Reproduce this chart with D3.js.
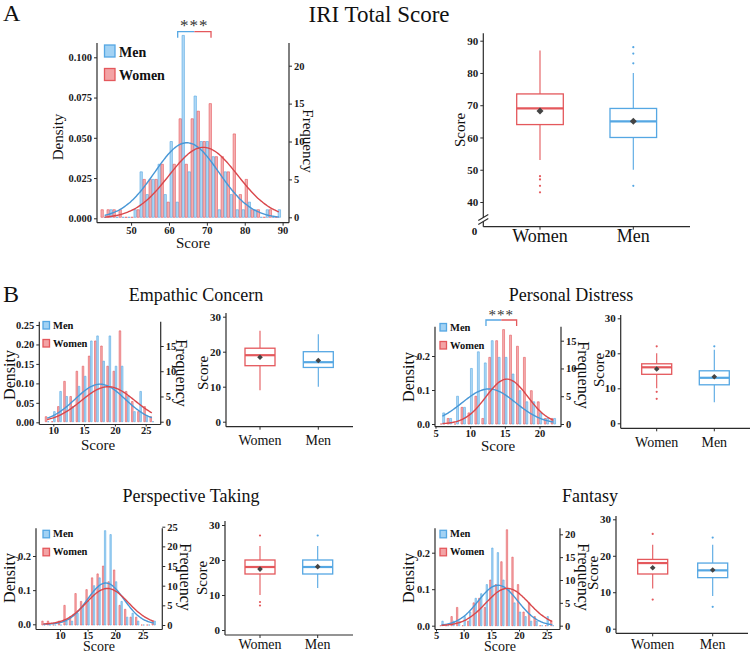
<!DOCTYPE html>
<html><head><meta charset="utf-8">
<script src="https://cdn.jsdelivr.net/npm/d3@7"></script>
<style>body{margin:0;background:#fff}svg{display:block}</style>
</head><body><svg id="c" width="750" height="652"></svg>
<script>
// ---------------- DATA ----------------
const groupLabels = ["Women", "Men"];
const legendLabels = ["Men", "Women"];
const panelTitles = ["IRI Total Score", "Empathic Concern", "Personal Distress", "Perspective Taking", "Fantasy"];
const panelLetters = ["A", "B"];
const sigLabel = "***";

// IRI total score: histogram bins (bin centers) and counts
const iriBins = [42.75, 44.34, 45.92, 47.51, 49.10, 50.68, 52.27, 53.85, 55.44, 57.03, 58.61, 60.20, 61.78, 63.37, 64.96,
                 66.54, 68.13, 69.71, 71.30, 72.89, 74.47, 76.06, 77.64, 79.23, 80.82, 82.40, 83.99, 85.58, 87.16, 88.75];
const iriWomen = [1, 1, 1, 1, 0, 0, 1, 5, 5, 5, 7, 2, 7, 13, 7, 13, 14, 10, 15, 8, 8, 6, 11, 3, 5, 1, 1, 0, 1, 0];
const iriMen   = [0, 1, 0, 0, 0, 1, 6, 3, 5, 7, 3, 10, 2, 24, 6, 16, 10, 10, 8, 1, 6, 3, 1, 1, 2, 1, 0, 1, 0, 1];
const iriNormWomen = [69.1, 9.05];   // mean, sd
const iriNormMen = [64.7, 8.5];
const iriBoxWomen = {lo: 53, q1: 64, med: 69, q3: 73.5, hi: 87, mean: 68.2, out: [48, 47, 45, 43]};
const iriBoxMen   = {lo: 50, q1: 60, med: 65, q3: 69, hi: 80, mean: 65, out: [83, 86, 88, 45]};

// Empathic Concern
const ecScores = [9, 10, 11, 12, 13, 14, 15, 16, 17, 18, 19, 20, 21, 22, 23, 24, 25, 26];
const ecWomen = [1, 0, 3, 8, 5, 10, 11, 13, 16, 15, 11, 10, 18, 6, 4, 2, 3, 1];
const ecMen   = [0, 2, 6, 5, 3, 7, 9, 16, 17, 12, 17, 11, 11, 5, 2, 6, 1, 0];
const ecNormWomen = [18.9, 4.36];
const ecNormMen = [17.6, 4.07];
const ecBoxWomen = {lo: 9, q1: 16, med: 19, q3: 21, hi: 26, mean: 18.4, out: []};
const ecBoxMen   = {lo: 10, q1: 15.5, med: 17, q3: 20, hi: 25, mean: 17.5, out: []};

// Personal Distress
const pdScores = [6, 7, 8, 9, 10, 11, 12, 13, 14, 15, 16, 17, 18, 19, 20, 21, 22];
const pdWomen = [0, 1, 0, 3, 2, 5, 1, 12, 15, 17, 16, 14, 12, 6, 4, 1, 1];
const pdMen   = [2, 1, 5, 3, 10, 13, 11, 15, 12, 12, 9, 6, 4, 4, 2, 1, 1];
const pdNormWomen = [15.3, 3.02];
const pdNormMen = [12.7, 3.87];
const pdBoxWomen = {lo: 10, q1: 14, med: 16, q3: 17, hi: 20, mean: 15.5, out: [22, 9, 7]};
const pdBoxMen   = {lo: 6, q1: 11, med: 13, q3: 15, hi: 21, mean: 13.3, out: [22]};

// Perspective Taking
const ptScores = [7, 8, 9, 10, 11, 12, 13, 14, 15, 16, 17, 18, 19, 20, 21, 22, 23, 24, 25, 26, 27];
const ptWomen = [1, 1, 0, 1, 5, 2, 8, 6, 9, 12, 13, 15, 11, 14, 5, 4, 2, 2, 0, 0, 1];
const ptMen   = [0, 0, 0, 0, 1, 1, 3, 5, 6, 10, 12, 24, 23, 11, 6, 2, 3, 1, 0, 0, 1];
const ptNormWomen = [18.6, 3.8];
const ptNormMen = [18.3, 3.3];
const ptBoxWomen = {lo: 10, q1: 16, med: 18, q3: 20, hi: 24, mean: 17.4, out: [27, 8, 7]};
const ptBoxMen   = {lo: 12, q1: 16, med: 18, q3: 20, hi: 24, mean: 18.1, out: [27]};

// Fantasy
const fsScores = [6, 7, 8, 9, 10, 11, 12, 13, 14, 15, 16, 17, 18, 19, 20, 21, 22, 23, 24, 25, 26];
const fsWomen = [0, 0, 2, 4, 0, 1, 5, 6, 4, 10, 9, 14, 21, 15, 9, 3, 5, 2, 0, 0, 1];
const fsMen   = [1, 0, 1, 1, 2, 3, 6, 7, 9, 17, 16, 10, 8, 5, 3, 2, 1, 1, 0, 2, 0];
const fsNormWomen = [17.9, 3.9];
const fsNormMen = [16.2, 3.6];
const fsBoxWomen = {lo: 11, q1: 15, med: 18, q3: 19, hi: 23, mean: 16.7, out: [26, 8]};
const fsBoxMen   = {lo: 9, q1: 14, med: 16, q3: 18, hi: 23, mean: 16.1, out: [25, 6]};

// ---------------- STYLE ----------------
const SERIF = "'Liberation Serif','Times New Roman',serif";
const RED = "#E4585C", RED_FILL = "#F3A3A5";
const BLUE = "#55A7E3", BLUE_FILL = "#A2D2F4";
const RED_LINE = "#D9474B", BLUE_LINE = "#4897D6";
const AXIS = "#2b2b2b";

const svg = d3.select("#c");
svg.append("rect").attr("width", 750).attr("height", 652).attr("fill", "#fff");

function txt(x, y, s, o = {}) {
  const t = svg.append("text").attr("x", x).attr("y", y).text(s)
    .attr("font-family", SERIF).attr("font-size", o.size || 12)
    .attr("text-anchor", o.anchor || "middle").attr("font-weight", o.weight || "normal")
    .attr("fill", o.fill || "#111");
  if (o.rotate != null) t.attr("transform", `rotate(${o.rotate},${x},${y})`);
  if (o.ls) t.attr("letter-spacing", o.ls);
  return t;
}
function styleAxis(g, size, weight) {
  g.attr("font-family", SERIF).attr("font-size", size);
  g.select(".domain").remove();
  g.selectAll(".tick line").attr("stroke", AXIS).attr("stroke-width", 1);
  g.selectAll(".tick text").attr("fill", "#1a1a1a").attr("font-weight", weight || "bold");
}
function normPdf(v, m, s) { return Math.exp(-0.5 * ((v - m) / s) ** 2) / (s * Math.sqrt(2 * Math.PI)); }

function drawHist(L, D) {
  const x = d3.scaleLinear().domain(L.xd).range(L.xr);
  const yD = d3.scaleLinear().domain(L.dd).range(L.dr);
  const yF = d3.scaleLinear().domain(L.fd).range(L.fr);
  const g = svg.append("g");
  const bar = (x0, x1, y0, y1) => `M${x0},${y0}V${y1}H${x1}V${y0}Z`;
  D.bins.forEach((c, i) => {
    g.append("path").attr("d", bar(x(c - D.hw) + 0.3, x(c) - 0.3, yF(0), yF(D.women[i])))
      .attr("fill", RED_FILL).attr("fill-opacity", 0.85).attr("stroke", RED).attr("stroke-width", 0.8).attr("stroke-opacity", 0.75);
    g.append("path").attr("d", bar(x(c) + 0.3, x(c + D.hw) - 0.3, yF(0), yF(D.men[i])))
      .attr("fill", BLUE_FILL).attr("fill-opacity", 0.85).attr("stroke", BLUE).attr("stroke-width", 0.8).attr("stroke-opacity", 0.75);
  });
  const line = d3.line().x(d => x(d)).curve(d3.curveBasis);
  const xs = d3.range(L.cr[0], L.cr[1] + 0.001, (L.cr[1] - L.cr[0]) / 120);
  [[D.normMen, BLUE_LINE], [D.normWomen, RED_LINE]].forEach(([p, col]) => {
    g.append("path").attr("d", line.y(v => yD(normPdf(v, p[0], p[1])))(xs))
      .attr("fill", "none").attr("stroke", col).attr("stroke-width", 1.4);
  });
  // axes
  const ax = (sel) => sel.attr("stroke", AXIS).attr("stroke-width", 1.2);
  ax(g.append("line").attr("x1", L.left).attr("x2", L.left).attr("y1", L.top).attr("y2", L.bottom));
  ax(g.append("line").attr("x1", L.right).attr("x2", L.right).attr("y1", L.top).attr("y2", L.bottom));
  ax(g.append("line").attr("x1", L.left).attr("x2", L.right).attr("y1", L.bottom).attr("y2", L.bottom));
  styleAxis(g.append("g").attr("transform", `translate(${L.left},0)`)
    .call(d3.axisLeft(yD).tickValues(L.dticks).tickFormat(d3.format(L.dfmt)).tickSize(3).tickPadding(2)), L.tfs);
  styleAxis(g.append("g").attr("transform", `translate(${L.right},0)`)
    .call(d3.axisRight(yF).tickValues(L.fticks).tickSize(3).tickPadding(2)), L.tfs);
  styleAxis(g.append("g").attr("transform", `translate(0,${L.bottom})`)
    .call(d3.axisBottom(x).tickValues(L.xticks).tickSize(L.xts || 3).tickPadding(L.xtp == null ? 1 : L.xtp)), L.tfs);
  txt(L.denLab[0], L.denLab[1], "Density", {size: L.lfs, rotate: -90});
  txt(L.freqLab[0], L.freqLab[1], "Frequency", {size: L.lfs, rotate: 90});
  txt(L.scoreLab[0], L.scoreLab[1], "Score", {size: L.sfs || L.lfs});
  // legend
  const lg = L.legend;
  [[legendLabels[0], BLUE_FILL, BLUE, lg.y[0]], [legendLabels[1], RED_FILL, RED, lg.y[1]]].forEach(([lab, f, s, yy]) => {
    g.append("rect").attr("x", lg.x).attr("y", yy).attr("width", lg.w).attr("height", lg.h)
      .attr("fill", f).attr("stroke", s).attr("stroke-width", 1.3);
    txt(lg.x + lg.w + lg.gap, yy + lg.h - 0.5, lab, {size: lg.fs, weight: "bold", anchor: "start"});
  });
  // significance bracket
  if (L.sig) {
    const s = L.sig, xl = x(s.from), xr = x(s.to), xm = (xl + xr) / 2;
    g.append("path").attr("d", `M${xl},${s.y + s.tick}V${s.y}H${xm}`).attr("fill", "none").attr("stroke", BLUE).attr("stroke-width", 1.3);
    g.append("path").attr("d", `M${xm},${s.y}H${xr}V${s.y + s.tick}`).attr("fill", "none").attr("stroke", RED).attr("stroke-width", 1.3);
    txt(xm, s.ty, sigLabel, {size: s.fs, fill: "#333", ls: 1});
  }
}

function drawBox(L, stats) {
  const y = d3.scaleLinear().domain(L.yd).range(L.yr);
  const x = d3.scaleOrdinal().domain(groupLabels).range(L.centers);
  const g = svg.append("g");
  const cols = {Women: RED, Men: BLUE};
  groupLabels.forEach((grp, i) => {
    const s = stats[i], cx = x(grp), c = cols[grp], hw = L.hw;
    g.append("line").attr("x1", cx).attr("x2", cx).attr("y1", y(s.hi)).attr("y2", y(s.q3)).attr("stroke", c).attr("stroke-width", 1.1);
    g.append("line").attr("x1", cx).attr("x2", cx).attr("y1", y(s.q1)).attr("y2", y(s.lo)).attr("stroke", c).attr("stroke-width", 1.1);
    g.append("rect").attr("x", cx - hw).attr("y", y(s.q3)).attr("width", 2 * hw).attr("height", y(s.q1) - y(s.q3))
      .attr("fill", "#fff").attr("stroke", c).attr("stroke-width", 1.3);
    g.append("line").attr("x1", cx - hw).attr("x2", cx + hw).attr("y1", y(s.med)).attr("y2", y(s.med)).attr("stroke", c).attr("stroke-width", 2.2);
    s.out.forEach(o => g.append("circle").attr("cx", cx).attr("cy", y(o)).attr("r", 1.1).attr("fill", c));
    const m = y(s.mean), d = L.dm;
    g.append("path").attr("d", `M${cx},${m - d}L${cx + d},${m}L${cx},${m + d}L${cx - d},${m}Z`).attr("fill", "#444");
  });
  const ax = (sel) => sel.attr("stroke", AXIS).attr("stroke-width", 1.2);
  ax(g.append("line").attr("x1", L.axisX).attr("x2", L.axisX).attr("y1", L.top).attr("y2", L.xAxisY));
  ax(g.append("line").attr("x1", L.axisX).attr("x2", L.right).attr("y1", L.xAxisY).attr("y2", L.xAxisY));
  styleAxis(g.append("g").attr("transform", `translate(${L.axisX},0)`)
    .call(d3.axisLeft(y).tickValues(L.ticks).tickSize(3).tickPadding(2)), L.tfs);
  groupLabels.forEach(grp => {
    g.append("line").attr("x1", x(grp)).attr("x2", x(grp)).attr("y1", L.xAxisY).attr("y2", L.xAxisY + 3).attr("stroke", AXIS);
    txt(x(grp), L.catY, grp, {size: L.cfs});
  });
  txt(L.scoreLab[0], L.scoreLab[1], "Score", {size: L.lfs, rotate: -90});
  if (L.brk) {
    const b = L.brk;
    g.append("rect").attr("x", L.axisX - 2).attr("y", b.y - 2).attr("width", 4).attr("height", 4).attr("fill", "#fff");
    [-2, 2].forEach(o => g.append("line").attr("x1", L.axisX - 5).attr("y1", b.y + o + 3).attr("x2", L.axisX + 5).attr("y2", b.y + o - 3)
      .attr("stroke", AXIS).attr("stroke-width", 1.1));
    txt(L.axisX - 6, b.zy, "0", {size: L.tfs, weight: "bold", anchor: "end"});
  }
}

// ---------------- LAYOUT ----------------
txt(3, 21, panelLetters[0], {size: 24, anchor: "start"});
txt(3, 302, panelLetters[1], {size: 24, anchor: "start"});
txt(379, 22, panelTitles[0], {size: 23});
txt(196, 301, panelTitles[1], {size: 18});
txt(571, 301, panelTitles[2], {size: 18});
txt(191, 502, panelTitles[3], {size: 18});
txt(590, 502, panelTitles[4], {size: 18});

drawHist({xd: [50, 90], xr: [131.1, 282.6], left: 97, right: 289, top: 43, bottom: 222.7,
  dd: [0, 0.1], dr: [218.3, 57.3], fd: [0, 20], fr: [217.3, 65.7], cr: [43, 89],
  dticks: [0, 0.025, 0.05, 0.075, 0.1], dfmt: ".3f", fticks: [0, 5, 10, 15, 20], xticks: [50, 60, 70, 80, 90],
  tfs: 10.5, lfs: 15, denLab: [63, 137], freqLab: [303, 141], scoreLab: [193, 248],
  legend: {x: 104.5, y: [45, 68.5], w: 10.5, h: 12, gap: 4, fs: 14},
  sig: {from: 62.3, to: 71.1, y: 31.7, tick: 6, ty: 31, fs: 17}},
  {bins: iriBins, women: iriWomen, men: iriMen, hw: 0.79, normWomen: iriNormWomen, normMen: iriNormMen});

drawHist({xd: [10, 25], xr: [53.3, 145.7], left: 39.3, right: 160.7, top: 321.7, bottom: 424.5,
  dd: [0, 0.25], dr: [422.3, 325], fd: [0, 15], fr: [421.7, 346], cr: [9, 26],
  dticks: [0, 0.05, 0.1, 0.15, 0.2, 0.25], dfmt: ".2f", fticks: [0, 5, 10, 15], xticks: [10, 15, 20, 25],
  tfs: 10.5, lfs: 16, sfs: 15, xts: 2, xtp: 0, denLab: [14.5, 375], freqLab: [175.5, 373], scoreLab: [98, 450],
  legend: {x: 43, y: [321.5, 339.5], w: 6.5, h: 7.5, gap: 3.5, fs: 10.5}},
  {bins: ecScores, women: ecWomen, men: ecMen, hw: 0.36, normWomen: ecNormWomen, normMen: ecNormMen});

drawHist({xd: [5, 20], xr: [435.5, 539.5], left: 435, right: 561, top: 326.7, bottom: 426.7,
  dd: [0, 0.2], dr: [424, 356], fd: [0, 15], fr: [424, 340.7], cr: [6, 22],
  dticks: [0, 0.1, 0.2], dfmt: ".1f", fticks: [0, 5, 10, 15], xticks: [5, 10, 15, 20],
  tfs: 10.5, lfs: 16, sfs: 15, xts: 2, xtp: 1, denLab: [414, 377], freqLab: [577.5, 375], scoreLab: [498, 451],
  legend: {x: 440, y: [323.5, 341.5], w: 6.5, h: 7.5, gap: 3.5, fs: 10.5},
  sig: {from: 12.28, to: 16.7, y: 320, tick: 6, ty: 320, fs: 15}},
  {bins: pdScores, women: pdWomen, men: pdMen, hw: 0.36, normWomen: pdNormWomen, normMen: pdNormMen});

drawHist({xd: [10, 25], xr: [60, 142.7], left: 36, right: 162.3, top: 528.3, bottom: 629.5,
  dd: [0, 0.2], dr: [624.3, 556], fd: [0, 25], fr: [625, 526.7], cr: [7, 27],
  dticks: [0, 0.1, 0.2], dfmt: ".1f", fticks: [0, 5, 10, 15, 20, 25], xticks: [10, 15, 20, 25],
  tfs: 10.5, lfs: 16, sfs: 14, xts: 2, xtp: 0, denLab: [15, 578], freqLab: [179.5, 577], scoreLab: [99, 651],
  legend: {x: 43, y: [530.3, 548.3], w: 6.5, h: 7.5, gap: 3.5, fs: 10.5}},
  {bins: ptScores, women: ptWomen, men: ptMen, hw: 0.36, normWomen: ptNormWomen, normMen: ptNormMen});

drawHist({xd: [5, 25], xr: [436, 546.7], left: 435, right: 560, top: 528.3, bottom: 629.5,
  dd: [0, 0.2], dr: [625.7, 552.7], fd: [0, 20], fr: [625.7, 534.3], cr: [6, 26],
  dticks: [0, 0.1, 0.2], dfmt: ".1f", fticks: [0, 5, 10, 15, 20], xticks: [5, 10, 15, 20, 25],
  tfs: 10.5, lfs: 16, sfs: 14, xts: 2, xtp: 0, denLab: [414, 578], freqLab: [577.5, 577], scoreLab: [500, 651],
  legend: {x: 440, y: [530.3, 548.3], w: 6.5, h: 7.5, gap: 3.5, fs: 10.5}},
  {bins: fsScores, women: fsWomen, men: fsMen, hw: 0.36, normWomen: fsNormWomen, normMen: fsNormMen});

drawBox({yd: [40, 90], yr: [202, 40.7], axisX: 483.3, top: 33.3, xAxisY: 226.7, right: 690,
  centers: [540, 633.3], hw: 23.3, dm: 3.5, ticks: [40, 50, 60, 70, 80, 90], tfs: 11, cfs: 18, catY: 242,
  lfs: 15, scoreLab: [465, 130], brk: {y: 219.5, zy: 235}}, [iriBoxWomen, iriBoxMen]);
drawBox({yd: [0, 30], yr: [421.7, 316.7], axisX: 226, top: 313, xAxisY: 426.7, right: 353,
  centers: [260, 318.3], hw: 15, dm: 2.8, ticks: [0, 10, 20, 30], tfs: 11, cfs: 14, catY: 445,
  lfs: 15, scoreLab: [208, 373]}, [ecBoxWomen, ecBoxMen]);
drawBox({yd: [0, 30], yr: [423.3, 318.3], axisX: 620.7, top: 315, xAxisY: 428.3, right: 750,
  centers: [656.7, 714.3], hw: 15, dm: 2.8, ticks: [0, 10, 20, 30], tfs: 11, cfs: 14, catY: 447,
  lfs: 15, scoreLab: [603.5, 370]}, [pdBoxWomen, pdBoxMen]);
drawBox({yd: [0, 30], yr: [630, 525], axisX: 225, top: 521, xAxisY: 635, right: 353,
  centers: [260, 317.7], hw: 15, dm: 2.8, ticks: [0, 10, 20, 30], tfs: 11, cfs: 14, catY: 649,
  lfs: 15, scoreLab: [207, 578]}, [ptBoxWomen, ptBoxMen]);
drawBox({yd: [0, 30], yr: [628.7, 519.3], axisX: 616, top: 516, xAxisY: 633.3, right: 748,
  centers: [652.7, 712.7], hw: 15, dm: 2.8, ticks: [0, 10, 20, 30], tfs: 11, cfs: 14, catY: 649,
  lfs: 15, scoreLab: [598, 573]}, [fsBoxWomen, fsBoxMen]);
</script></body></html>
